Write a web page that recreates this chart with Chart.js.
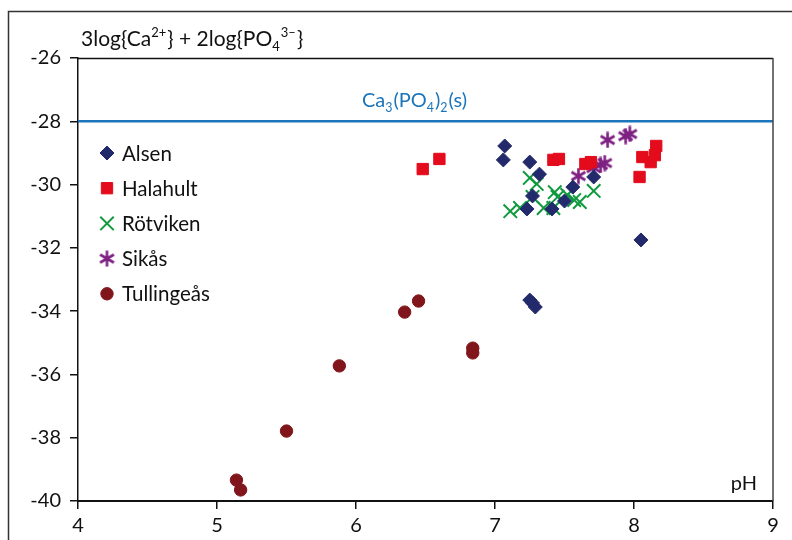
<!DOCTYPE html>
<html><head><meta charset="utf-8">
<script src="https://cdn.jsdelivr.net/npm/chart.js@4.4.1/dist/chart.umd.min.js"></script>
<style>html,body{margin:0;padding:0;background:#fff;}#wrap{position:relative;width:792px;height:540px;overflow:hidden;}canvas{display:block;}</style>
</head><body><div id="wrap"><canvas id="c" width="792" height="540"></canvas></div>
<script>
const FONT = 'Lato, "Open Sans", sans-serif';

// ---- data ----
const xTicks = [4, 5, 6, 7, 8, 9];
const yTicks = [-26, -28, -30, -32, -34, -36, -38, -40];
const seriesNames = ['Alsen', 'Halahult', 'Rötviken', 'Sikås', 'Tullingeås'];

const alsenPH  = [7.07, 7.06, 7.25, 7.32, 7.71, 7.56, 7.27, 7.50, 7.23, 7.41, 8.05, 7.25, 7.27, 7.29];
const alsenLog = [-28.78, -29.22, -29.29, -29.67, -29.76, -30.08, -30.36, -30.52, -30.77, -30.77, -31.75, -33.65, -33.74, -33.87];

const halahultPH  = [6.48, 6.60, 7.42, 7.46, 7.65, 7.69, 8.04, 8.06, 8.12, 8.16, 8.15];
const halahultLog = [-29.51, -29.19, -29.22, -29.19, -29.35, -29.29, -29.76, -29.13, -29.29, -28.78, -29.07];

const rotvikenPH  = [7.25, 7.30, 7.43, 7.27, 7.11, 7.18, 7.35, 7.42, 7.45, 7.52, 7.57, 7.61, 7.71];
const rotvikenLog = [-29.79, -29.98, -30.24, -30.39, -30.84, -30.74, -30.74, -30.74, -30.39, -30.33, -30.49, -30.55, -30.20];

const sikasPH  = [7.60, 7.71, 7.76, 7.79, 7.81, 7.94, 7.97];
const sikasLog = [-29.73, -29.48, -29.38, -29.32, -28.59, -28.47, -28.40];

const tullingeasPH  = [5.14, 5.17, 5.50, 5.88, 6.35, 6.45, 6.84, 6.84];
const tullingeasLog = [-39.34, -39.65, -37.79, -35.73, -34.03, -33.68, -35.17, -35.32];

const saturationLog = -28;   // Ca3(PO4)2(s)
const xRange = [4, 9];
const yRange = [-40, -26];

// ---- styling ----
const colors = ['#232a6c', '#e30b1c', '#0f9a3e', '#7e2182', '#80161b'];
const lineColor = '#1b75bb';

function asteriskCanvas(color, size, lw) {
  const c = document.createElement('canvas');
  c.width = c.height = size;
  const g = c.getContext('2d');
  g.strokeStyle = color; g.lineWidth = lw;
  const m = size / 2, r = size / 2 - 0.5;
  g.beginPath();
  [90, 30, 150].forEach(a => {
    const t = a * Math.PI / 180;
    g.moveTo(m - Math.cos(t) * r, m - Math.sin(t) * r);
    g.lineTo(m + Math.cos(t) * r, m + Math.sin(t) * r);
  });
  g.stroke();
  return c;
}
const star = asteriskCanvas(colors[3], 17, 2.6);

const styles = [
  { pointStyle: 'rectRot', radius: 7, borderWidth: 1 },
  { pointStyle: 'rect', radius: 8, borderWidth: 1 },
  { pointStyle: 'crossRot', radius: 9.5, borderWidth: 2 },
  { pointStyle: star, radius: 8.5, borderWidth: 0 },
  { pointStyle: 'circle', radius: 6.2, borderWidth: 1 }
];

const xs = [alsenPH, halahultPH, rotvikenPH, sikasPH, tullingeasPH];
const ys = [alsenLog, halahultLog, rotvikenLog, sikasLog, tullingeasLog];

const datasets = seriesNames.map((name, i) => ({
  type: 'scatter',
  label: name,
  data: xs[i].map((x, k) => ({ x: x, y: ys[i][k] })),
  pointStyle: styles[i].pointStyle,
  pointRadius: styles[i].radius,
  pointHoverRadius: styles[i].radius,
  backgroundColor: colors[i],
  borderColor: colors[i],
  borderWidth: styles[i].borderWidth
}));
datasets.push({
  type: 'line',
  label: 'Ca3(PO4)2(s)',
  data: [{ x: xRange[0], y: saturationLog }, { x: xRange[1], y: saturationLog }],
  borderColor: lineColor,
  borderWidth: 2.5,
  pointRadius: 0,
  fill: false,
  order: 10
});

// rich text helper: parts [text, kind]
function drawRich(ctx, parts, x, y, size, color) {
  ctx.save();
  ctx.fillStyle = color;
  ctx.textBaseline = 'alphabetic';
  ctx.textAlign = 'left';
  let cx = x;
  parts.forEach(([t, k]) => {
    let fs = size, dy = 0;
    if (k === 'sup') { fs = size * 0.62; dy = -size * 0.42; }
    if (k === 'sub') { fs = size * 0.62; dy = size * 0.25; }
    ctx.font = fs + 'px ' + FONT;
    ctx.fillText(t, cx, y + dy);
    cx += ctx.measureText(t).width + (k === 'n' ? 0 : 1);
  });
  ctx.restore();
  return cx - x;
}

const decor = {
  id: 'decor',
  beforeDraw(chart) {
    const ctx = chart.ctx;
    ctx.save();
    ctx.strokeStyle = '#333';
    ctx.lineWidth = 1.5;
    ctx.strokeRect(8.5, 11.5, 900, 700);
    ctx.restore();
  },
  afterDraw(chart) {
    const ctx = chart.ctx, a = chart.chartArea;
    ctx.save();
    ctx.strokeStyle = '#111';
    ctx.lineWidth = 1.5;
    ctx.beginPath();
    ctx.moveTo(a.left, a.top + 0.5); ctx.lineTo(a.right, a.top + 0.5);
    ctx.stroke();
    ctx.strokeStyle = '#444';
    ctx.beginPath();
    ctx.moveTo(a.right, a.top); ctx.lineTo(a.right, a.bottom);
    ctx.stroke();
    ctx.restore();

    // y title
    drawRich(ctx, [['3log{Ca', 'n'], ['2+', 'sup'], ['} + 2log{PO', 'n'], ['4', 'sub'], ['3\u2013', 'sup'], ['}', 'n']], 81, 46, 21, '#111');
    // line label
    const yl = chart.scales.y.getPixelForValue(saturationLog);
    drawRich(ctx, [['Ca', 'n'], ['3', 'sub'], ['(PO', 'n'], ['4', 'sub'], [')', 'n'], ['2', 'sub'], ['(s)', 'n']], 362, yl - 14, 20, lineColor);
    // pH label
    ctx.save();
    ctx.font = '20px ' + FONT;
    ctx.fillStyle = '#111';
    ctx.textAlign = 'right';
    ctx.fillText('pH', 757, 490);
    ctx.restore();

    // legend
    const lx = 107, tx = 122, ly0 = 153, dy = 35.2;
    seriesNames.forEach((name, i) => {
      const y = ly0 + i * dy;
      ctx.save();
      ctx.fillStyle = colors[i];
      ctx.strokeStyle = colors[i];
      ctx.lineWidth = styles[i].borderWidth;
      const ps = styles[i].pointStyle;
      if (Chart.helpers && Chart.helpers.drawPoint) {
        Chart.helpers.drawPoint(ctx, { pointStyle: ps, radius: styles[i].radius, rotation: 0, borderWidth: styles[i].borderWidth }, lx, y);
      }
      ctx.restore();
      ctx.save();
      ctx.font = '20.5px ' + FONT;
      ctx.fillStyle = '#111';
      ctx.textBaseline = 'middle';
      ctx.fillText(name, tx, y + 1);
      ctx.restore();
    });
  }
};

new Chart(document.getElementById('c'), {
  type: 'scatter',
  data: { datasets },
  plugins: [decor],
  options: {
    responsive: false,
    animation: false,
    events: [],
    layout: { padding: { top: 58, right: 19, left: 0, bottom: 0 } },
    plugins: { legend: { display: false }, tooltip: { enabled: false }, title: { display: false } },
    scales: {
      x: {
        type: 'linear', min: xRange[0], max: xRange[1],
        afterFit(s) { s.height = 39; },
        afterBuildTicks(s) { s.ticks = xTicks.map(v => ({ value: v })); },
        grid: { display: true, drawOnChartArea: false, drawTicks: true, tickLength: 8, color: '#111', lineWidth: 1.5 },
        border: { display: true, color: '#111', width: 2 },
        ticks: { font: { family: FONT, size: 20 }, color: '#111', padding: 5, maxRotation: 0 }
      },
      y: {
        type: 'linear', min: yRange[0], max: yRange[1],
        afterFit(s) { s.width = 78; },
        afterBuildTicks(s) { s.ticks = yTicks.map(v => ({ value: v })); },
        grid: { display: true, drawOnChartArea: false, drawTicks: true, tickLength: 8, color: '#111', lineWidth: 1.5 },
        border: { display: true, color: '#111', width: 1.5 },
        ticks: { font: { family: FONT, size: 20 }, color: '#111', padding: 9 }
      }
    }
  }
});
</script>
</body></html>
